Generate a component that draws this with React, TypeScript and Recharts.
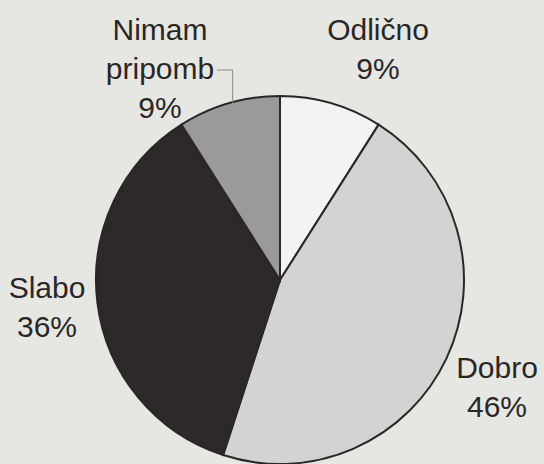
import { PieChart, Pie, Cell } from "recharts";

const categories = ["Odlično", "Dobro", "Slabo", "Nimam pripomb"];
const shares = [9, 46, 36, 9];
const sliceColors = ["#f3f3f1", "#d3d3d1", "#2d2929", "#9b9999"];

// label text lines per slice
const labelLines: string[][] = [
  ["Odlično", "9%"],
  ["Dobro", "46%"],
  ["Slabo", "36%"],
  ["Nimam", "pripomb", "9%"],
];

// where each label block sits, relative to the pie centre
const labelOffsets = [
  { dx: 98, dy: -240 },
  { dx: 217, dy: 98 },
  { dx: -233, dy: 18 },
  { dx: -120, dy: -240 },
];

const data = categories.map((name, i) => ({ name, value: shares[i] }));

const LINE_H = 39;

const renderLabel = (props: any) => {
  const { cx, cy, index, outerRadius, midAngle } = props;
  const off = labelOffsets[index];
  const lines = labelLines[index];
  const x = cx + off.dx;
  const y0 = cy + off.dy;
  let leader = null;
  if (index === 3) {
    // leader from the end of "pripomb" down to the rim
    const rad = (-midAngle * Math.PI) / 180;
    const ex = cx + outerRadius * Math.cos(rad) + 4;
    const ey = cy + outerRadius * Math.sin(rad);
    const lx = x + 57;
    const ly = y0 + LINE_H - 9;
    leader = (
      <polyline
        points={`${lx},${ly} ${ex},${ly} ${ex},${ey}`}
        fill="none"
        stroke="#8a8888"
        strokeWidth={1}
      />
    );
  }
  return (
    <g>
      {leader}
      {lines.map((t, i) => (
        <text
          key={i}
          x={x}
          y={y0 + i * LINE_H}
          textAnchor="middle"
          fill="#2a2626"
          fontSize={30}
          fontFamily="'Liberation Sans', Arial, sans-serif"
        >
          {t}
        </text>
      ))}
    </g>
  );
};

export default function App() {
  return (
    <div
      style={{
        position: "absolute",
        left: 0,
        top: 0,
        width: 544,
        height: 464,
        background: "#e6e6e3",
        overflow: "hidden",
      }}
    >
      <PieChart width={544} height={464} margin={{ top: 0, right: 0, bottom: 0, left: 0 }}>
        <Pie
          data={data}
          dataKey="value"
          nameKey="name"
          cx={280}
          cy={280}
          outerRadius={184}
          startAngle={90}
          endAngle={-270}
          stroke="#2b2727"
          strokeWidth={2}
          label={renderLabel}
          labelLine={false}
          isAnimationActive={false}
        >
          {data.map((d, i) => (
            <Cell key={d.name} fill={sliceColors[i]} />
          ))}
        </Pie>
      </PieChart>
    </div>
  );
}
